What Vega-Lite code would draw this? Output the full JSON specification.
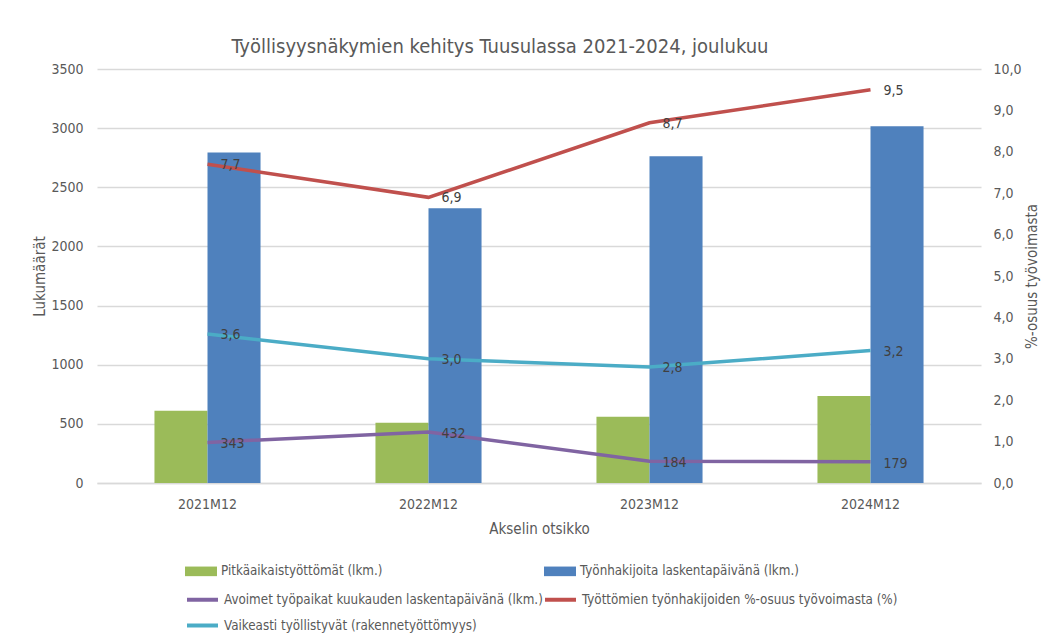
{
  "$schema": "https://vega.github.io/schema/vega-lite/v6.json",
  "autosize": {"type": "none"},
  "width": 884,
  "height": 414,
  "padding": {"left": 97, "top": 69, "right": 69, "bottom": 156},
  "background": "white",
  "title": {
    "text": "Työllisyysnäkymien kehitys Tuusulassa 2021-2024, joulukuu",
    "anchor": "middle",
    "dx": -39,
    "offset": 5,
    "fontSize": 20,
    "fontWeight": "normal",
    "color": "#595959",
    "font": "Liberation Sans Narrow, DejaVu Sans Condensed, sans-serif"
  },
  "datasets": {
    "pylvaat": [
      {"vuosi": "2021M12", "sarja": "Pitkäaikaistyöttömät (lkm.)", "arvo": 610},
      {"vuosi": "2021M12", "sarja": "Työnhakijoita laskentapäivänä (lkm.)", "arvo": 2795},
      {"vuosi": "2022M12", "sarja": "Pitkäaikaistyöttömät (lkm.)", "arvo": 510},
      {"vuosi": "2022M12", "sarja": "Työnhakijoita laskentapäivänä (lkm.)", "arvo": 2322},
      {"vuosi": "2023M12", "sarja": "Pitkäaikaistyöttömät (lkm.)", "arvo": 560},
      {"vuosi": "2023M12", "sarja": "Työnhakijoita laskentapäivänä (lkm.)", "arvo": 2762},
      {"vuosi": "2024M12", "sarja": "Pitkäaikaistyöttömät (lkm.)", "arvo": 735},
      {"vuosi": "2024M12", "sarja": "Työnhakijoita laskentapäivänä (lkm.)", "arvo": 3015}
    ],
    "avoimet": [
      {"vuosi": "2021M12", "sarja": "Avoimet työpaikat kuukauden laskentapäivänä (lkm.)", "arvo": 343},
      {"vuosi": "2022M12", "sarja": "Avoimet työpaikat kuukauden laskentapäivänä (lkm.)", "arvo": 432},
      {"vuosi": "2023M12", "sarja": "Avoimet työpaikat kuukauden laskentapäivänä (lkm.)", "arvo": 184},
      {"vuosi": "2024M12", "sarja": "Avoimet työpaikat kuukauden laskentapäivänä (lkm.)", "arvo": 179}
    ],
    "osuudet": [
      {"vuosi": "2021M12", "sarja": "Työttömien työnhakijoiden %-osuus työvoimasta (%)", "arvo": 7.7},
      {"vuosi": "2022M12", "sarja": "Työttömien työnhakijoiden %-osuus työvoimasta (%)", "arvo": 6.9},
      {"vuosi": "2023M12", "sarja": "Työttömien työnhakijoiden %-osuus työvoimasta (%)", "arvo": 8.7},
      {"vuosi": "2024M12", "sarja": "Työttömien työnhakijoiden %-osuus työvoimasta (%)", "arvo": 9.5},
      {"vuosi": "2021M12", "sarja": "Vaikeasti työllistyvät (rakennetyöttömyys)", "arvo": 3.6},
      {"vuosi": "2022M12", "sarja": "Vaikeasti työllistyvät (rakennetyöttömyys)", "arvo": 3.0},
      {"vuosi": "2023M12", "sarja": "Vaikeasti työllistyvät (rakennetyöttömyys)", "arvo": 2.8},
      {"vuosi": "2024M12", "sarja": "Vaikeasti työllistyvät (rakennetyöttömyys)", "arvo": 3.2}
    ]
  },
  "encoding": {
    "x": {
      "field": "vuosi",
      "type": "nominal",
      "sort": ["2021M12", "2022M12", "2023M12", "2024M12"],
      "scale": {"paddingInner": 0.52, "paddingOuter": 0.26},
      "axis": {
        "title": "Akselin otsikko",
        "labelAngle": 0,
        "labelPadding": 14,
        "ticks": false,
        "domain": true,
        "domainColor": "#d9d9d9",
        "domainWidth": 1.5,
        "titlePadding": 10,
        "titleFontSize": 15
      }
    }
  },
  "layer": [
    {
      "encoding": {
        "y": {
          "type": "quantitative",
          "scale": {"domain": [0, 3500], "nice": false},
          "axis": {
            "orient": "left",
            "title": "Lukumäärät",
            "values": [0, 500, 1000, 1500, 2000, 2500, 3000, 3500],
            "format": "d",
            "grid": true,
            "gridColor": "#d9d9d9",
            "gridWidth": 1.5,
            "domain": false,
            "ticks": false,
            "labelPadding": 14,
            "titlePadding": 3
          }
        }
      },
      "layer": [
        {
          "data": {"name": "pylvaat"},
          "mark": {"type": "bar"},
          "encoding": {
            "xOffset": {
              "field": "sarja",
              "type": "nominal",
              "sort": ["Pitkäaikaistyöttömät (lkm.)", "Työnhakijoita laskentapäivänä (lkm.)"],
              "scale": {"paddingInner": 0, "paddingOuter": 0}
            },
            "y": {"field": "arvo"},
            "color": {
              "field": "sarja",
              "type": "nominal",
              "scale": {
                "domain": ["Pitkäaikaistyöttömät (lkm.)", "Työnhakijoita laskentapäivänä (lkm.)"],
                "range": ["#9bbb59", "#4f81bd"]
              },
              "legend": {
                "title": null,
                "orient": "none",
                "legendX": 88,
                "legendY": 486,
                "direction": "horizontal",
                "columns": 2,
                "columnPadding": 161,
                "symbolType": "M-1,-0.3H1V0.3H-1Z",
                "symbolSize": 1024,
                "symbolStrokeWidth": 0,
                "symbolOpacity": 1,
                "labelLimit": 400
              }
            }
          }
        },
        {
          "data": {"name": "avoimet"},
          "mark": {"type": "line", "strokeWidth": 3.5},
          "encoding": {
            "y": {"field": "arvo"},
            "stroke": {
              "field": "sarja",
              "type": "nominal",
              "scale": {
                "domain": [
                  "Avoimet työpaikat kuukauden laskentapäivänä (lkm.)",
                  "Työttömien työnhakijoiden %-osuus työvoimasta (%)",
                  "Vaikeasti työllistyvät (rakennetyöttömyys)"
                ],
                "range": ["#8064a2", "#c0504d", "#4bacc6"]
              },
              "legend": {
                "title": null,
                "orient": "none",
                "legendX": 88,
                "legendY": 513,
                "direction": "horizontal",
                "columns": 2,
                "columnPadding": -10,
                "rowPadding": -4,
                "symbolType": "stroke",
                "symbolSize": 961,
                "symbolStrokeWidth": 4,
                "symbolOpacity": 1,
                "labelLimit": 400
              }
            }
          }
        },
        {
          "data": {"name": "avoimet"},
          "mark": {"type": "text", "align": "left", "baseline": "middle", "dx": 13, "dy": 2, "fontSize": 14, "color": "#404040"},
          "encoding": {
            "y": {"field": "arvo"},
            "text": {"field": "arvo", "type": "quantitative", "format": "d"}
          }
        }
      ]
    },
    {
      "data": {"name": "osuudet"},
      "encoding": {
        "y": {
          "field": "arvo",
          "type": "quantitative",
          "scale": {"domain": [0, 10], "nice": false},
          "axis": {
            "orient": "right",
            "title": "%-osuus työvoimasta",
            "titleAngle": -90,
            "values": [0, 1, 2, 3, 4, 5, 6, 7, 8, 9, 10],
            "format": ".1f",
            "grid": false,
            "domain": false,
            "ticks": false,
            "labelPadding": 12,
            "titlePadding": 18
          }
        }
      },
      "layer": [
        {
          "mark": {"type": "line", "strokeWidth": 3.5},
          "encoding": {
            "stroke": {"field": "sarja", "type": "nominal"}
          }
        },
        {
          "mark": {"type": "text", "align": "left", "baseline": "middle", "dx": 13, "dy": 1, "fontSize": 14, "color": "#404040"},
          "encoding": {
            "text": {"field": "arvo", "type": "quantitative", "format": ".1f"}
          }
        }
      ]
    }
  ],
  "resolve": {"scale": {"y": "independent"}},
  "config": {
    "locale": {
      "number": {"decimal": ",", "thousands": " ", "grouping": [3], "currency": ["", " €"]}
    },
    "font": "Liberation Sans Narrow, DejaVu Sans Condensed, sans-serif",
    "view": {"stroke": null},
    "axis": {
      "labelFontSize": 14,
      "labelColor": "#595959",
      "titleFontSize": 15,
      "titleColor": "#595959",
      "titleFontWeight": "normal",
      "labelFont": "Liberation Sans Narrow, DejaVu Sans Condensed, sans-serif",
      "titleFont": "Liberation Sans Narrow, DejaVu Sans Condensed, sans-serif"
    },
    "legend": {
      "labelFontSize": 13.3,
      "labelColor": "#595959",
      "labelFont": "Liberation Sans Narrow, DejaVu Sans Condensed, sans-serif",
      "rowPadding": 13,
      "symbolOffset": 0,
      "labelOffset": 4
    }
  }
}
